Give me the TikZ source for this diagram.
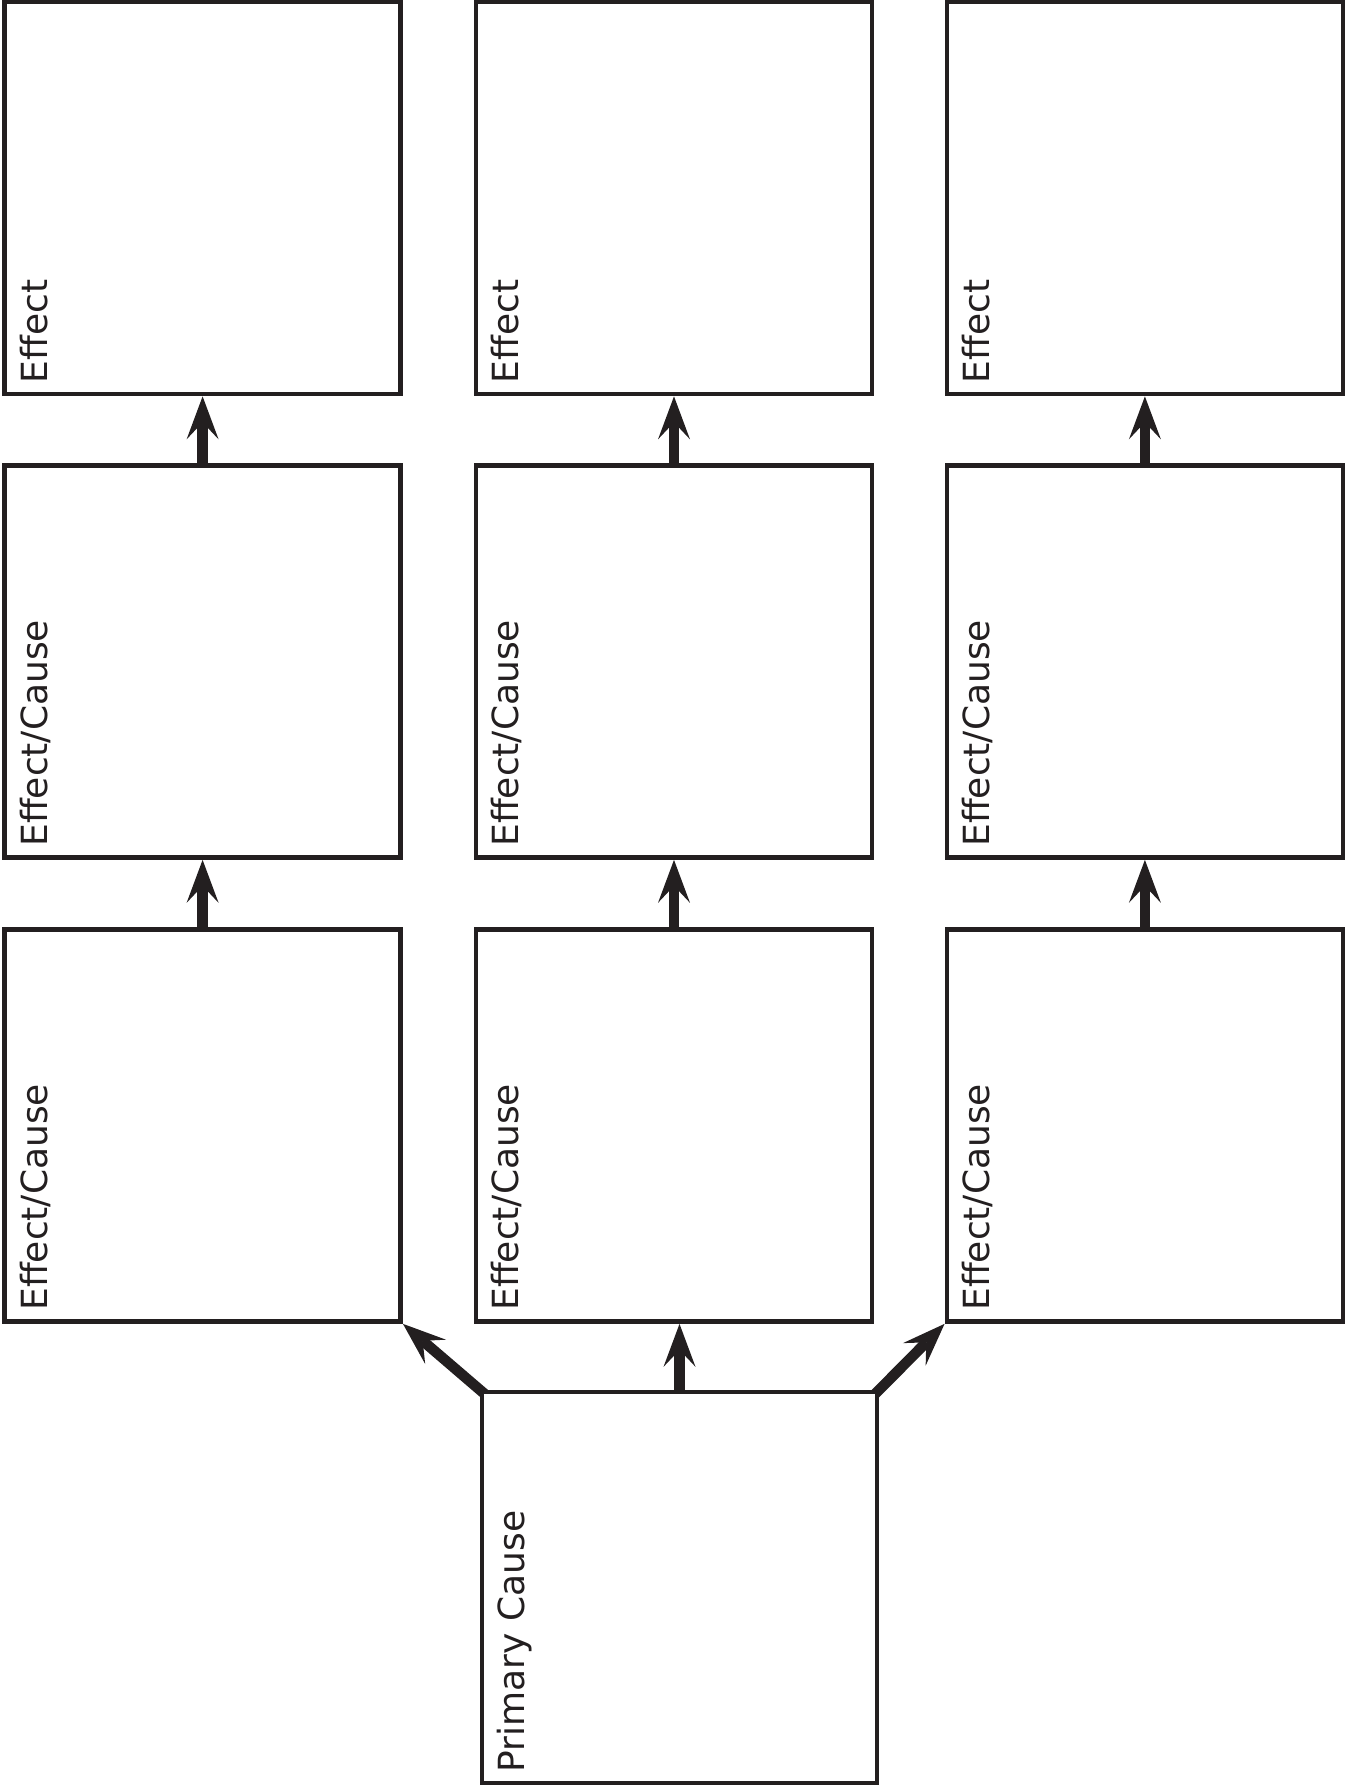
\documentclass[tikz,border=0pt]{standalone}
\usepackage{fontspec}
\setmainfont{DejaVu Sans}
\usetikzlibrary{arrows.meta,calc}
\definecolor{ink}{RGB}{35,31,32}
\pgfdeclarelayer{background}
\pgfsetlayers{background,main}
\begin{document}
\begin{tikzpicture}[x=1pt,y=-1pt,
  box/.style={draw=ink,line width=4.7pt,minimum width=396pt,minimum height=392pt,inner sep=0pt,fill=white},
  lbl/.style={rotate=90,anchor=base west,inner sep=0pt,text=ink,font=\fontsize{36}{44}\selectfont},
  arr/.style={draw=ink,line width=10.5pt,-{Stealth[length=43pt,width=32pt,inset=17pt,line width=0pt]}}]
\useasboundingbox (0,0) rectangle (1345,1785);
% boxes
\node[box] (a1) at (202.6,198) {};
\node[box] (b1) at (674,198) {};
\node[box] (c1) at (1144.9,198) {};
\node[box] (a2) at (202.6,661.5) {};
\node[box] (b2) at (674,661.5) {};
\node[box] (c2) at (1144.9,661.5) {};
\node[box] (a3) at (202.6,1125.5) {};
\node[box] (b3) at (674,1125.5) {};
\node[box] (c3) at (1144.9,1125.5) {};
\node[box,minimum width=395pt,minimum height=391pt] (p) at (679.5,1587.5) {};
% labels
\foreach \n/\t in {a1/Effect,b1/Effect,c1/Effect,a2/Effect\slash Cause,b2/Effect\slash Cause,c2/Effect\slash Cause,a3/Effect\slash Cause,b3/Effect\slash Cause,c3/Effect\slash Cause,p/Primary Cause}
  \node[lbl] (l\n) at ([xshift=45pt,yshift=13pt]\n.south west) {\t};
% arrows
\draw[arr] (a2.north) -- (a1.south);
\draw[arr] (b2.north) -- (b1.south);
\draw[arr] (c2.north) -- (c1.south);
\draw[arr] (a3.north) -- (a2.south);
\draw[arr] (b3.north) -- (b2.south);
\draw[arr] (c3.north) -- (c2.south);
\draw[arr] (p.north) -- (p.north |- b3.south);
\begin{pgfonlayer}{background}
\draw[arr] ($(p.north west)!-9pt!(a3.south east)$) -- (a3.south east);
\draw[arr] ($(p.north east)!-9pt!(c3.south west)$) -- (c3.south west);
\end{pgfonlayer}
\end{tikzpicture}
\end{document}
